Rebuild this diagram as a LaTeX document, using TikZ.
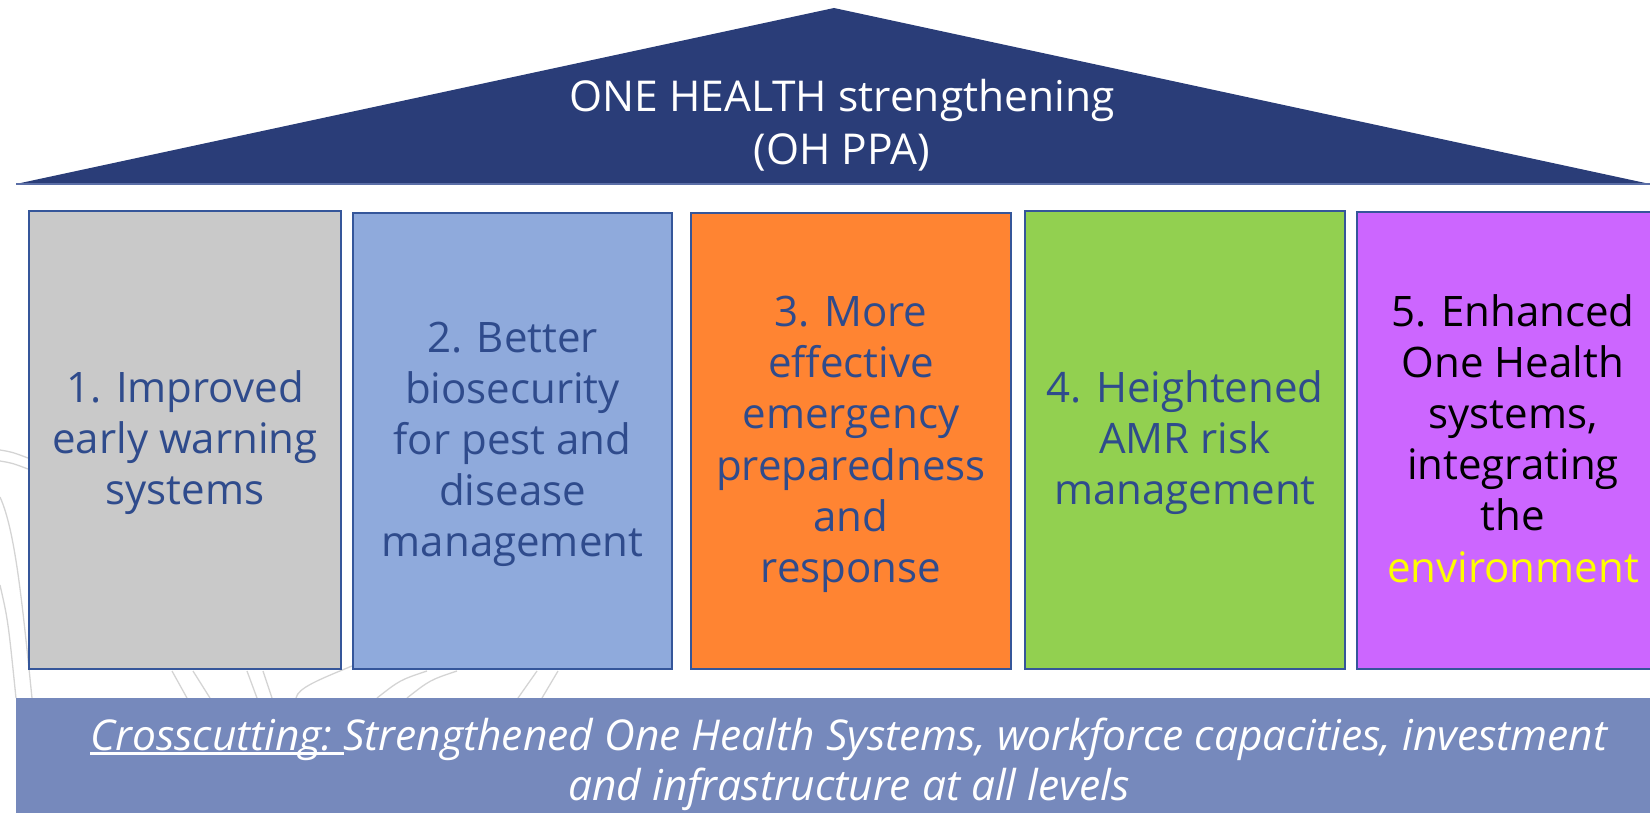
\documentclass[tikz,border=0pt]{standalone}
\usepackage{fontspec}
\setmainfont{Open Sans}
\definecolor{roofblue}{HTML}{2A3D78}
\definecolor{roofedge}{HTML}{5A6EA6}
\definecolor{pgrey}{HTML}{C9C9C9}
\definecolor{pblue}{HTML}{8FAADC}
\definecolor{porange}{HTML}{FF8432}
\definecolor{pgreen}{HTML}{92D050}
\definecolor{ppurple}{HTML}{CC66FF}
\definecolor{barblue}{HTML}{7689BC}
\definecolor{txtblue}{HTML}{2F4B8C}
\definecolor{pborder}{HTML}{35569A}
\definecolor{envyellow}{HTML}{FFFF00}
\definecolor{bggrey}{HTML}{D4D4D4}
\newcommand\crossul[1]{\setbox0\hbox{#1}\rlap{\rule[-4.3pt]{\wd0}{3pt}}\box0}
\newcommand\pilltop{\rule{0pt}{38pt}}
\newcommand\pillbot{\rule[-11pt]{0pt}{11pt}}
\tikzset{
  pillar/.style={draw=pborder, line width=2.3pt, inner sep=0pt, align=center,
    text=txtblue, font=\fontsize{42}{51.2}\selectfont},
  bgline/.style={draw=bggrey, line width=1.3pt},
  rooftext/.style={text=white, align=center, font=\fontsize{42.5}{52.5}\selectfont},
  bartext/.style={text=white, align=center, font=\fontsize{42.5}{49.5}\selectfont\itshape}
}
\begin{document}
\begin{tikzpicture}[x=1pt,y=-1pt]
\path[use as bounding box] (0,0) rectangle (1650,813);
\clip (0,0) rectangle (1650,813);
% faint background line art
\draw[bgline] (0,450) .. controls (12,452) .. (28,458);
\draw[bgline] (0,461) .. controls (12,463) .. (28,469);
\draw[bgline] (0,497) .. controls (15,530) and (22,600) .. (32,698);
\draw[bgline] (0,585) .. controls (8,620) .. (16,698);
\draw[bgline] (172,671) -- (187,698);
\draw[bgline] (193,671) -- (210,698);
\draw[bgline] (247,671) -- (257,698);
\draw[bgline] (263,671) -- (272,698);
\draw[bgline] (352,666) .. controls (318,680) and (298,688) .. (296,698);
\draw[bgline] (427,671) .. controls (400,680) .. (377,698);
\draw[bgline] (457,671) .. controls (430,680) .. (407,698);
\draw[bgline] (537,671) -- (518,698);
\draw[bgline] (558,671) -- (542,698);
% roof
\fill[roofblue] (16,184) -- (834,8) -- (1650,184) -- cycle;
\draw[roofedge, line width=1.2pt] (16,184) -- (1650,184);
\node[rooftext] (roof) at (842,125) {ONE HEALTH strengthening\\(OH PPA)};
% pillars
\node[pillar, fill=pgrey, minimum width=312, minimum height=458] (p1) at (185,440)
  {\pilltop 1. Improved\\early warning\\systems\pillbot};
\node[pillar, fill=pblue, minimum width=319, minimum height=456] (p2) at (512.5,441)
  {\pilltop 2. Better\\biosecurity\\for pest and\\disease\\management\pillbot};
\node[pillar, fill=porange, minimum width=320, minimum height=456] (p3) at (851,441)
  {\pilltop 3. More\\effective\\emergency\\preparedness\\and\\response\pillbot};
\node[pillar, fill=pgreen, minimum width=320, minimum height=458] (p4) at (1185,440)
  {\pilltop 4. Heightened\\AMR risk\\management\pillbot};
\node[pillar, fill=ppurple, text=black, minimum width=312, minimum height=457] (p5) at (1513,440.5)
  {\pilltop 5. Enhanced\\One Health\\systems,\\integrating\\the\\\textcolor{envyellow}{environment}\pillbot};
% base bar
\fill[barblue] (16,698) rectangle (1700,830);
\node[bartext] (bar) at (849,764.4)
  {\crossul{Crosscutting:\ }Strengthened One Health Systems, workforce capacities, investment\\and infrastructure at all levels};
\end{tikzpicture}
\end{document}
